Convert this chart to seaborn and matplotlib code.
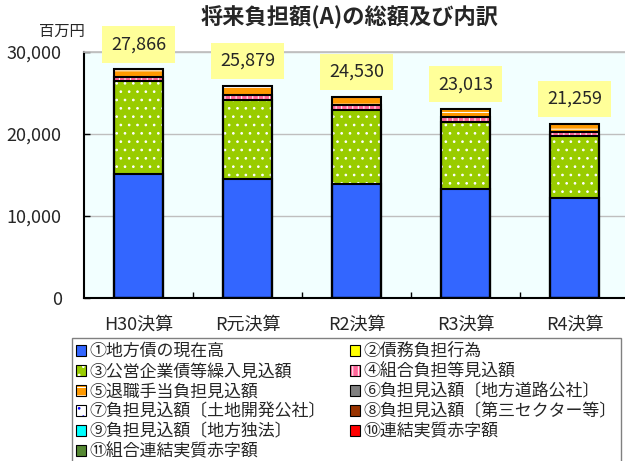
import numpy as np
import matplotlib
matplotlib.use("Agg")
import matplotlib.pyplot as plt
import seaborn as sns
from matplotlib.patches import Patch
from matplotlib.ticker import FuncFormatter

# categories and totals (百万円)
years = ['H30決算', 'R元決算', 'R2決算', 'R3決算', 'R4決算']
totals = [27866, 25879, 24530, 23013, 21259]

# breakdown
chihousai = [15100, 14500, 13960, 13350, 12150]        # ①
saimu_futan = [0, 0, 0, 0, 0]                           # ②
koei_kigyo = [11400, 9700, 8930, 8150, 7610]            # ③
kumiai_futan = [400, 550, 600, 580, 520]                # ④
taishoku = [966, 1129, 1040, 933, 979]                  # ⑤
doro_kosha = [0, 0, 0, 0, 0]                            # ⑥
tochi_kaihatsu = [0, 0, 0, 0, 0]                        # ⑦
daisan_sector = [0, 0, 0, 0, 0]                         # ⑧
chiho_dokuho = [0, 0, 0, 0, 0]                          # ⑨
renketsu_akaji = [0, 0, 0, 0, 0]                        # ⑩
kumiai_renketsu = [0, 0, 0, 0, 0]                       # ⑪

labels = ['①地方債の現在高', '②債務負担行為', '③公営企業債等繰入見込額',
          '④組合負担等見込額', '⑤退職手当負担見込額', '⑥負担見込額〔地方道路公社〕',
          '⑦負担見込額〔土地開発公社〕', '⑧負担見込額〔第三セクター等〕',
          '⑨負担見込額〔地方独法〕', '⑩連結実質赤字額', '⑪組合連結実質赤字額']
series = [chihousai, saimu_futan, koei_kigyo, kumiai_futan, taishoku, doro_kosha,
          tochi_kaihatsu, daisan_sector, chiho_dokuho, renketsu_akaji, kumiai_renketsu]

colors = ['#3366FF', '#FFFF00', '#99CC00', '#FF6699', '#FF9900', '#808080',
          '#FFFFFF', '#993300', '#00FFFF', '#FF0000', '#558833']
hatches = [None, None, '..', '|||', '--', None, '..', None, None, None, None]
hatch_cols = ['white'] * 6 + ['#0000FF'] + ['white'] * 4

sns.set_theme(style='white')
plt.rcParams['font.family'] = ['Noto Sans CJK JP', 'DejaVu Sans']
plt.rcParams['hatch.linewidth'] = 0.7

fig = plt.figure(figsize=(6.25, 4.61), dpi=100)
ax = fig.add_axes([0.1344, 0.3536, 0.872, 0.5336])
ax.set_facecolor('#F2FFFF')

# stacked bars: draw cumulative heights from the top series down
cum = np.cumsum(np.array(series), axis=0)
for i in range(len(series) - 1, -1, -1):
    if not np.any(series[i]):
        continue
    sns.barplot(x=years, y=cum[i], color=colors[i], saturation=1, width=0.45,
                hatch=hatches[i], edgecolor=hatch_cols[i], linewidth=0,
                errorbar=None, ax=ax, zorder=2)
for i in range(len(series)):
    if not np.any(series[i]):
        continue
    sns.barplot(x=years, y=cum[i], fill=False, color='black', linewidth=1.5,
                width=0.45, errorbar=None, ax=ax, zorder=3)

# total labels
for i, t in enumerate(totals):
    ax.annotate(f'{t:,}', xy=(i, t), xytext=(0, 18), textcoords='offset points',
                ha='center', va='center', fontsize=13, zorder=5,
                bbox=dict(boxstyle='square,pad=0.5', fc='#FFFF99', ec='none'))

ax.set_ylim(0, 30000)
ax.set_xlim(-0.5, 4.5)
ax.set_yticks([0, 10000, 20000, 30000])
ax.yaxis.set_major_formatter(FuncFormatter(lambda v, p: f'{int(v):,}'))
ax.yaxis.grid(True, color='#BFBFBF', lw=1)
ax.set_axisbelow(True)
ax.set_xlabel('')
ax.set_ylabel('')
ax.set_xticks([0.5, 1.5, 2.5, 3.5], minor=True)
ax.tick_params(axis='x', which='major', length=0, pad=13, labelsize=13)
ax.tick_params(axis='x', which='minor', direction='in', length=4, width=1, color='black', bottom=True)
ax.tick_params(axis='y', direction='in', length=4, width=1, color='black', left=True,
               pad=16, labelsize=13)
for s in ['left', 'bottom']:
    ax.spines[s].set_color('black')
    ax.spines[s].set_linewidth(1.5)
ax.spines['top'].set_color('#BFBFBF')
ax.spines['right'].set_visible(False)

fig.text(0.56, 0.961, '将来負担額(A)の総額及び内訳', ha='center', va='center',
         fontsize=16, fontweight='bold')
fig.text(62 / 625, 1 - 31 / 461, '百万円', ha='center', va='center', fontsize=11)

# legend, filled row by row like the original
handles = [(Patch(facecolor=c, hatch=h, edgecolor=hc, lw=0),
            Patch(facecolor='none', edgecolor='black', lw=0.8))
           for c, h, hc in zip(colors, hatches, hatch_cols)]
order = [0, 2, 4, 6, 8, 10, 1, 3, 5, 7, 9]
leg = fig.legend([handles[k] for k in order], [labels[k] for k in order],
                 loc='upper left', bbox_to_anchor=(72 / 625, 1 - 338 / 461),
                 ncol=2, fontsize=12.2, frameon=True, fancybox=False,
                 edgecolor='#808080', framealpha=1, borderaxespad=0,
                 handlelength=0.6, handleheight=0.6, handletextpad=0.2,
                 labelspacing=0.12, columnspacing=1.4, borderpad=0.25)
leg.get_frame().set_linewidth(1)

fig.savefig('out.png', dpi=100)
